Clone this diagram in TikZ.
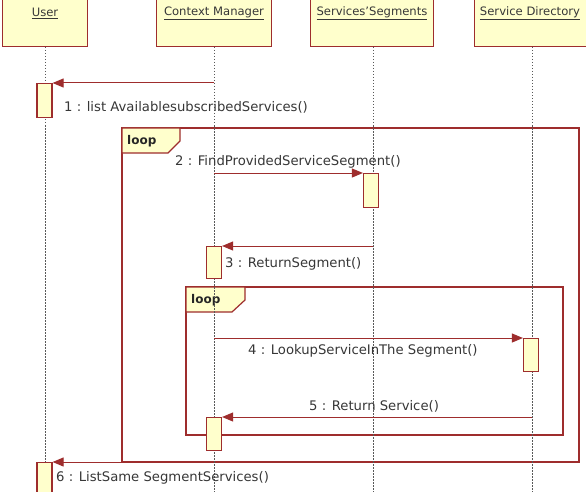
\documentclass[tikz,border=0pt]{standalone}
\usepackage{fontspec}
\setmainfont{DejaVu Sans}
\usetikzlibrary{arrows.meta}
\definecolor{bord}{RGB}{158,45,45}
\definecolor{fillY}{RGB}{255,255,204}
\definecolor{txt}{RGB}{55,55,55}
\begin{document}
\begin{tikzpicture}[x=1pt,y=-1pt,
 head/.style={draw=bord, fill=fillY, line width=1.2pt, inner sep=0pt},
 act/.style={draw=bord, fill=fillY, line width=1.2pt, minimum width=15pt, inner sep=0pt, anchor=north},
 life/.style={draw=gray!70!black, dash pattern=on 1.5pt off 1.5pt, line width=0.6pt},
 msg/.style={draw=bord, line width=1pt, -{Triangle[length=11pt,width=9pt]}},
 frame/.style={draw=bord, line width=1.2pt},
 lbl/.style={text=txt, font=\fontsize{13.2}{15}\selectfont, inner sep=0pt},
 htxt/.style={text=txt, font=\fontsize{11.6}{14}\selectfont, inner sep=0pt},
 looptxt/.style={text=black!85, font=\bfseries\fontsize{12}{14}\selectfont, inner sep=0pt, anchor=west},
]
\useasboundingbox (0,0) rectangle (586,492);
\fill[white] (0,0) rectangle (586,492);

% heads
\node[head, anchor=south west, minimum width=85pt, minimum height=60pt] (userbox) at (2,47) {};
\node[head, anchor=south west, minimum width=115pt, minimum height=60pt] (cmbox) at (156,47) {};
\node[head, anchor=south west, minimum width=123pt, minimum height=60pt] (ssbox) at (310,47) {};
\node[head, anchor=south west, minimum width=120pt, minimum height=60pt] (sdbox) at (474,47) {};
\node[htxt] (usert) at (45,13) {\underline{User}};
\node[htxt] (cmt) at (214,13) {\underline{Context Manager}};
\node[htxt] (sst) at (372,13) {\underline{Services\char"27 Segments}};
\node[htxt] (sdt) at (530,13) {\underline{Service Directory}};

% frames
\draw[frame] (122,128) rectangle (579,462);
\filldraw[frame, fill=fillY] (122,128) -- (180,128) -- (180,141) -- (168,153) -- (122,153) -- cycle;
\node[looptxt] (loop1) at (127,141) {loop};
\draw[frame] (186,287) rectangle (563,435);
\filldraw[frame, fill=fillY] (186,287) -- (245,287) -- (245,300) -- (232,312) -- (186,312) -- cycle;
\node[looptxt] (loop2) at (191,300) {loop};

% lifelines
\coordinate (userend) at (45,492);
\coordinate (cmend) at (214,492);
\coordinate (ssend) at (373,492);
\coordinate (sdend) at (532,492);
\draw[life] (userbox.south -| usert) -- (userend);
\draw[life] (cmbox.south -| cmt) -- (cmend);
\draw[life] (373,47) -- (ssend);
\draw[life] (532,47) -- (sdend);

% activations
\node[act, minimum height=34pt] (a1) at (44.5,83) {};
\node[act, minimum height=34pt] (a2) at (371,173) {};
\node[act, minimum height=32pt] (a3) at (214,246) {};
\node[act, minimum height=33pt] (a4) at (531,338) {};
\node[act, minimum height=33pt] (a5) at (214,417) {};
\node[act, minimum height=40pt] (a6) at (44.5,462) {};

% message sources
\coordinate (s1) at (214,83);
\coordinate (s2) at (214,173);
\coordinate (s3) at (373,246);
\coordinate (s4) at (214,338);
\coordinate (s5) at (532,417);
\coordinate (s6) at (214,462);

\draw[msg] (s1) -- (a1.north east);
\draw[msg] (s2) -- (a2.north west);
\draw[msg] (s3) -- (a3.north east);
\draw[msg] (s4) -- (a4.north west);
\draw[msg] (s5) -- (a5.north east);
\draw[msg] (s6) -- (a6.north east);

% labels
\node[lbl, anchor=west] (l1) at (64,107) {1 : list AvailablesubscribedServices()};
\node[lbl, anchor=west] (l2) at (175,162) {2 : FindProvidedServiceSegment()};
\node[lbl, anchor=west] (l3) at (225,264) {3 : ReturnSegment()};
\node[lbl, anchor=west] (l4) at (248,351) {4 : LookupServiceInThe Segment()};
\node[lbl, anchor=west] (l5) at (309,406) {5 : Return Service()};
\node[lbl, anchor=west] (l6) at (56,478) {6 : ListSame SegmentServices()};
\end{tikzpicture}
\end{document}
